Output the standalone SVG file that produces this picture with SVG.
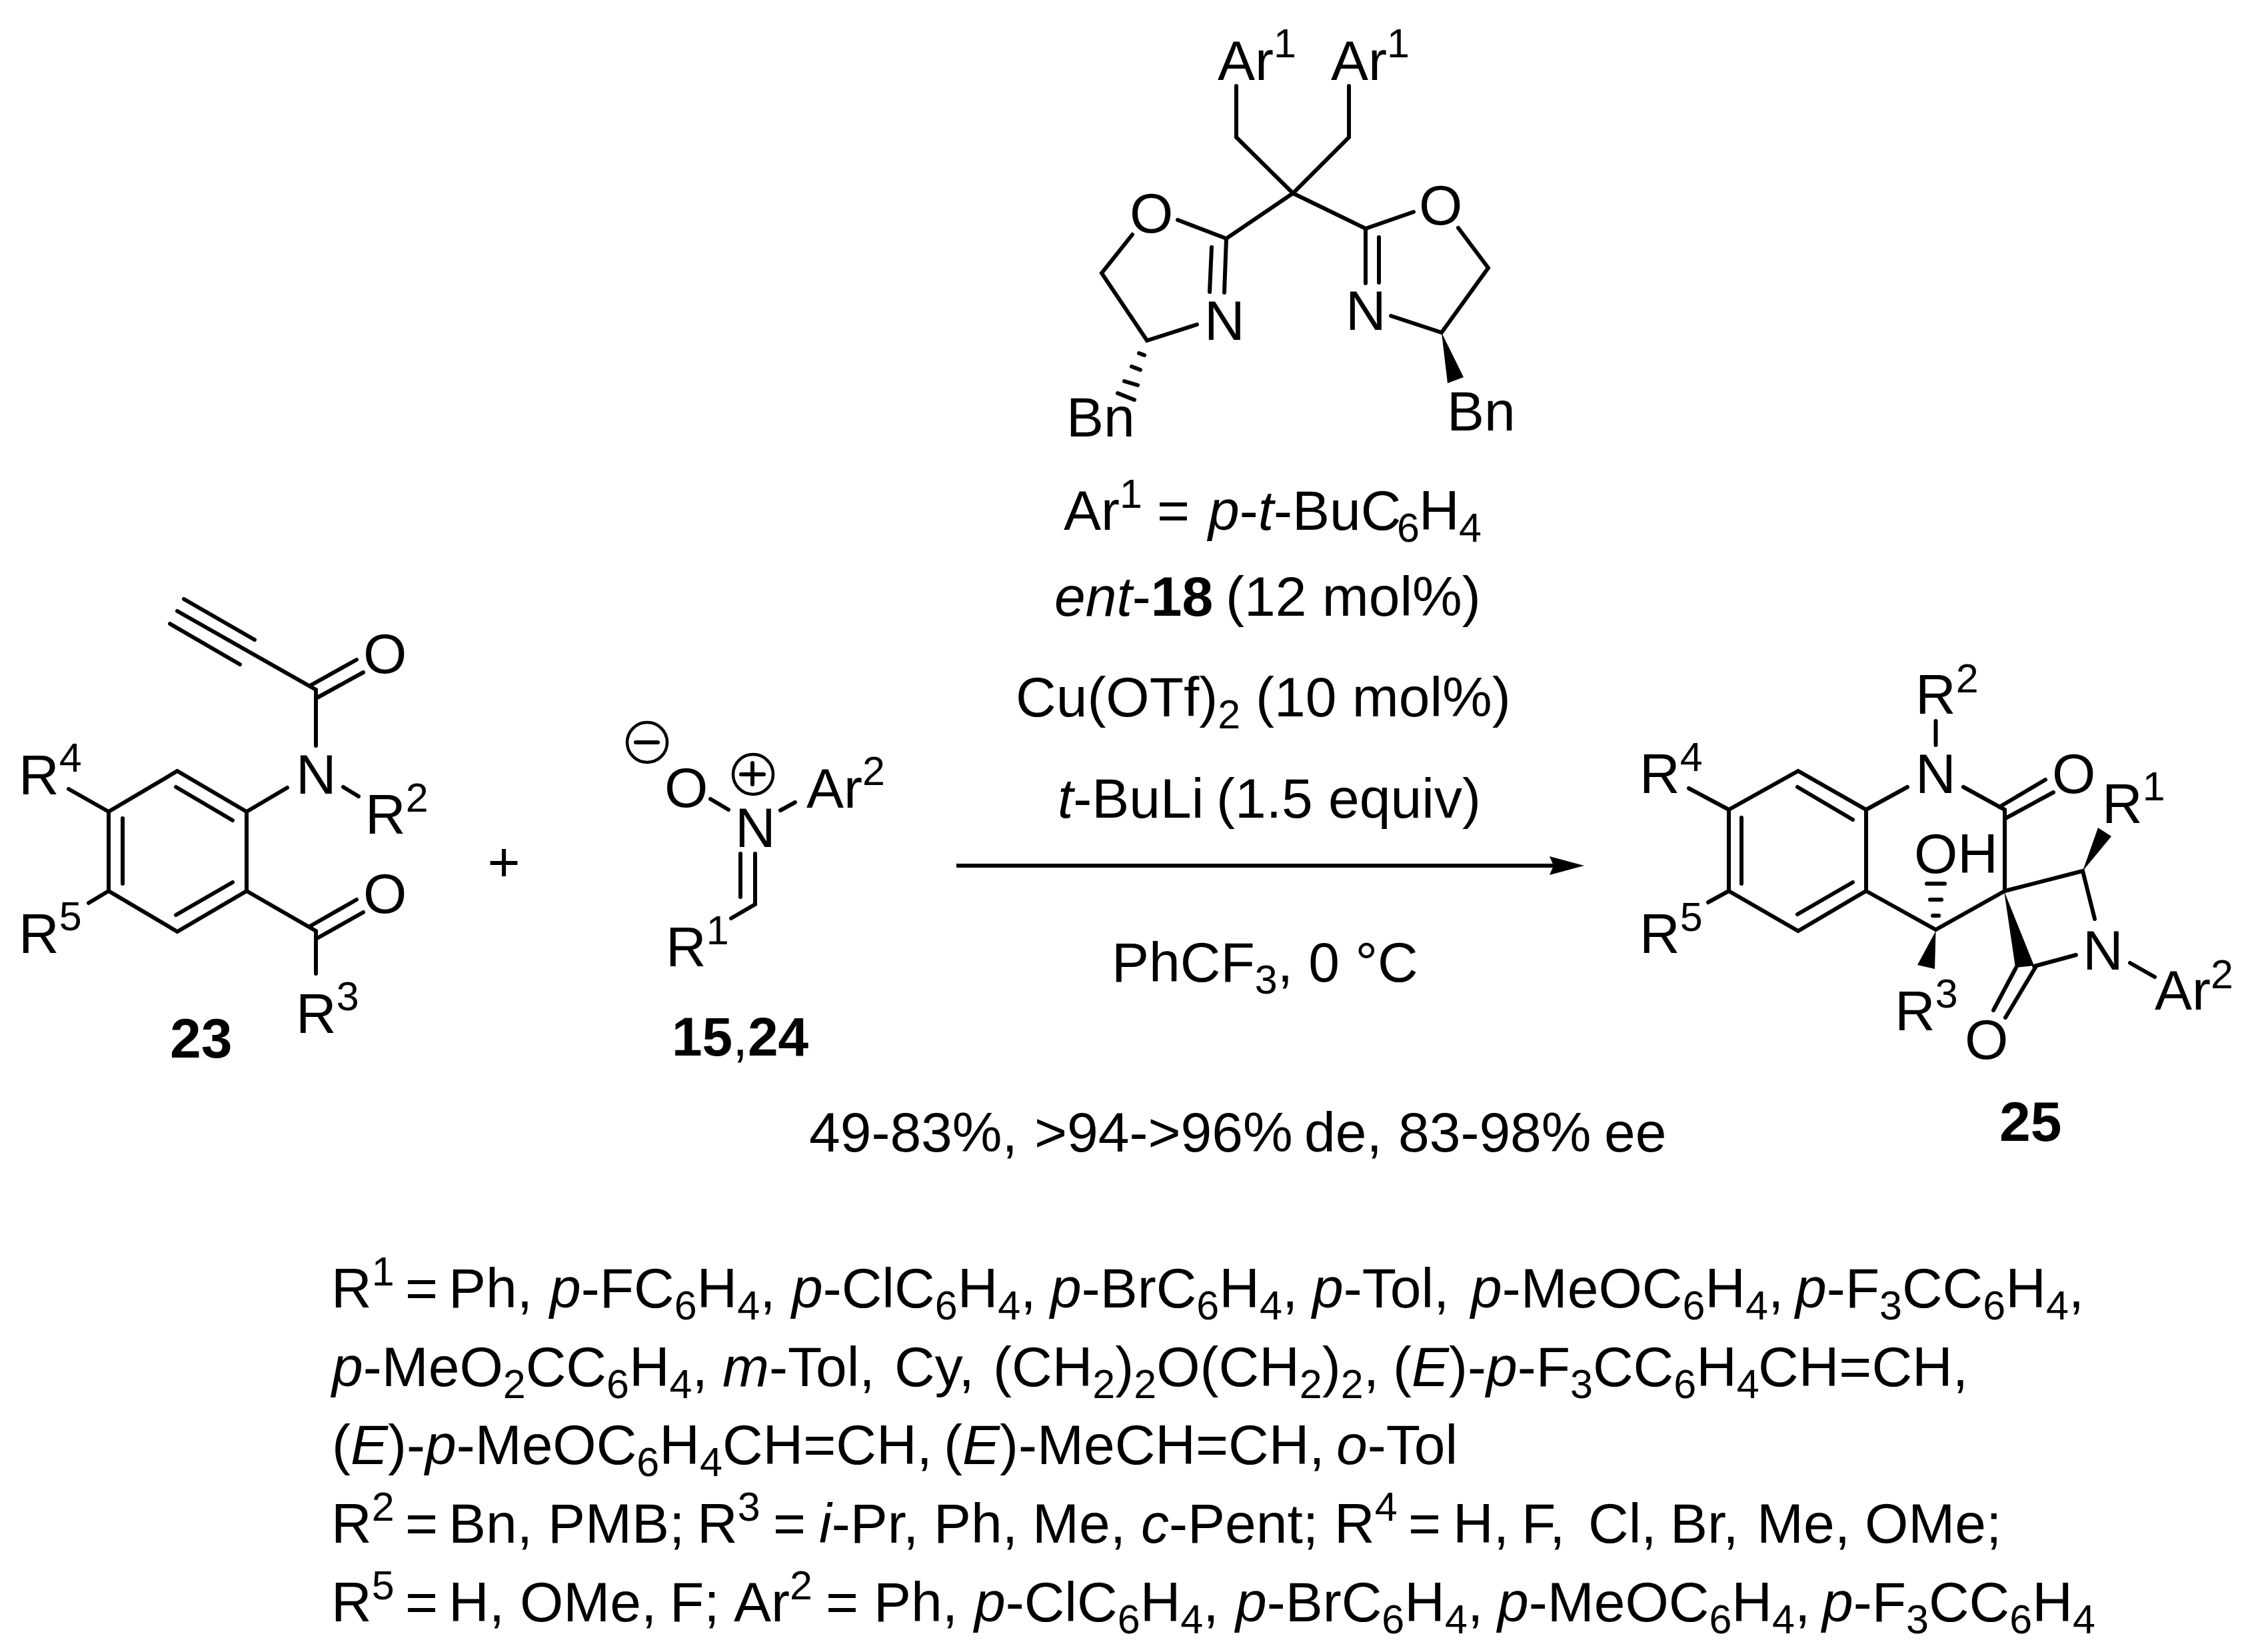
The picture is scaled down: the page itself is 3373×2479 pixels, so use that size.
<svg xmlns="http://www.w3.org/2000/svg" width="3373" height="2479" viewBox="0 0 3373 2479">
<style>
text{font-family:"Liberation Sans",Arial,sans-serif;font-size:84px;fill:#000}
.b{font-weight:700}
.i{font-style:italic}
.s{font-size:61px}
.l{fill:none;stroke:#000;stroke-width:6;stroke-linecap:round;stroke-linejoin:miter}
.c{fill:none;stroke:#000;stroke-width:4.5}
.f{fill:#000;stroke:none}
</style>
<defs>
<marker id="head" markerUnits="userSpaceOnUse" markerWidth="52" markerHeight="28" viewBox="0 0 52 28" refX="7" refY="14" orient="auto"><path d="M0 0L52 14L0 28L6 14Z" fill="#000"/></marker>
</defs>
<rect width="3373" height="2479" fill="#fff"/>

<g id="connectors">
<line x1="1435" y1="1299" x2="2332" y2="1299" stroke="#000" stroke-width="6" marker-end="url(#head)"/>
</g>

<g id="ligand">
<path class="l" d="M1855 129V206L1940 290L2024 206V129M1940 290L1840 358L1767 330M1840 358L1837 439M1818 371L1815 438M1796 487L1721 511L1653 410L1699 352M1940 290L2049 343L2121 318M2049 343V425M2069 356V424M2087 474L2163 499L2233 402L2188 342"/>
<path class="l" d="M1709 530L1717 533M1698 550L1711 555M1687 572L1707 578M1677 590L1702 600"/>
<polygon class="f" points="2163,499 2172,575 2196,566"/>
<text x="1827" y="120">Ar<tspan class="s" dy="-34">1</tspan></text>
<text x="1997" y="120">Ar<tspan class="s" dy="-34">1</tspan></text>
<text x="1695" y="349">O</text>
<text x="2129" y="337">O</text>
<text x="1807" y="510">N</text>
<text x="2019" y="495">N</text>
<text x="1600" y="655">Bn</text>
<text x="2171" y="646">Bn</text>
</g>

<g id="conditions">
<text y="795"><tspan x="1596">Ar</tspan><tspan class="s" dy="-33">1</tspan><tspan x="1736" dy="33">=</tspan><tspan class="i" x="1813">p</tspan>-<tspan class="i">t</tspan>-BuC<tspan class="s" x="2096" dy="18">6</tspan><tspan x="2129" dy="-18">H</tspan><tspan class="s" x="2189" dy="18">4</tspan></text>
<text y="924"><tspan class="i" x="1582">ent</tspan>-<tspan class="b">18</tspan><tspan x="1839">(12 mol%)</tspan></text>
<text y="1075"><tspan x="1524">Cu(OTf)</tspan><tspan class="s" dy="18">2</tspan><tspan x="1884" dy="-18">(10 mol%)</tspan></text>
<text y="1227"><tspan class="i" x="1587">t</tspan>-BuLi<tspan x="1825">(1.5 equiv)</tspan></text>
<text y="1473"><tspan x="1668">PhCF</tspan><tspan class="s" dy="18">3</tspan><tspan dy="-18">, 0 °C</tspan></text>
</g>

<g id="yield">
<text y="1728"><tspan x="1214">49-83%,</tspan><tspan x="1552">&gt;94-&gt;96%</tspan><tspan x="1957">de,</tspan><tspan x="2098">83-98%</tspan><tspan x="2407">ee</tspan></text>
</g>

<g id="substrate-23">
<path class="l" d="M266 917L474 1035V1119M276 899L382 960M255 936L360 997M465 1029L535 990M474 1048L545 1009"/>
<path class="l" d="M370 1218L266 1157L163 1218V1337L266 1398L370 1337ZM264 1181L349 1231M184 1228V1326M264 1373L349 1324M370 1218L431 1182M515 1181L538 1195M163 1218L103 1184M163 1337L133 1355M370 1337L474 1397V1461M465 1390L535 1350M474 1409L545 1369"/>
<text x="545" y="1010">O</text>
<text x="444" y="1191">N</text>
<text x="548" y="1251">R<tspan class="s" dy="-33">2</tspan></text>
<text x="28" y="1192">R<tspan class="s" dy="-34">4</tspan></text>
<text x="28" y="1430">R<tspan class="s" dy="-34">5</tspan></text>
<text x="545" y="1370">O</text>
<text x="444" y="1550">R<tspan class="s" dy="-34">3</tspan></text>
<text class="b" x="255" y="1587">23</text>
</g>

<g id="plus"><text x="756" y="1322" text-anchor="middle">+</text></g>

<g id="nitrone-15-24">
<circle class="c" cx="971" cy="1114" r="30"/>
<path class="l" d="M954 1114H987M1112 1162H1146M1129 1145V1177"/>
<circle class="c" cx="1130" cy="1162" r="30"/>
<path class="l" d="M1066 1199L1093 1215M1171 1216L1193 1204M1111 1281V1346M1133 1281V1357L1097 1378"/>
<text x="997" y="1211">O</text>
<text x="1103" y="1271">N</text>
<text x="1210" y="1212">Ar<tspan class="s" dy="-34">2</tspan></text>
<text x="999" y="1450">R<tspan class="s" dy="-33">1</tspan></text>
<text x="1008" y="1584" style="font-size:82px"><tspan class="b">15</tspan>,<tspan class="b">24</tspan></text>
</g>

<g id="product-25">
<path class="l" d="M2800 1215L2698 1157L2594 1215V1337L2698 1397L2800 1337ZM2697 1181L2780 1230M2613 1227V1326M2697 1372L2780 1324M2800 1215L2862 1181M2946 1181L3008 1215V1337L2904.5 1395L2800 1337M3000 1211L3069 1170M3011 1227L3081 1189M2904.5 1082V1118M2594 1215L2534 1183M2594 1337L2563 1354M3008 1337L3125 1307L3143 1379M3115 1433L3052 1450M3196 1445L3233 1466M3025 1452L2991 1516M3055 1450L3009 1527"/>
<path class="l" d="M2900 1374H2909M2896 1350H2913M2891 1326H2918"/>
<polygon class="f" points="2904.5,1397 2877,1448 2903,1454"/>
<polygon class="f" points="3125,1307 3148,1242 3168,1255"/>
<polygon class="f" points="3007,1337 3024,1452 3052,1449"/>
<text x="2874" y="1190">N</text>
<text x="2874" y="1071">R<tspan class="s" dy="-32">2</tspan></text>
<text x="3079" y="1190">O</text>
<text x="2460" y="1190">R<tspan class="s" dy="-33">4</tspan></text>
<text x="2460" y="1430">R<tspan class="s" dy="-33">5</tspan></text>
<text x="2872" y="1310">OH</text>
<text x="2843" y="1546">R<tspan class="s" dy="-34">3</tspan></text>
<text x="3125" y="1455">N</text>
<text x="3154" y="1235">R<tspan class="s" dy="-34">1</tspan></text>
<text x="3233" y="1515">Ar<tspan class="s" dy="-32">2</tspan></text>
<text x="2948" y="1589">O</text>
<text class="b" x="3000" y="1712">25</text>
</g>

<g id="legend">
<text y="1962"><tspan x="497">R</tspan><tspan class="s" dy="-33">1</tspan><tspan x="608" dy="33">=</tspan><tspan x="673">Ph,</tspan><tspan class="i" x="825">p</tspan>-FC<tspan class="s" dy="18">6</tspan><tspan dy="-18">H</tspan><tspan class="s" dy="18">4</tspan><tspan dy="-18">,</tspan><tspan class="i" x="1188">p</tspan>-ClC<tspan class="s" dy="18">6</tspan><tspan dy="-18">H</tspan><tspan class="s" dy="18">4</tspan><tspan dy="-18">,</tspan><tspan class="i" x="1576">p</tspan>-BrC<tspan class="s" dy="18">6</tspan><tspan dy="-18">H</tspan><tspan class="s" dy="18">4</tspan><tspan dy="-18">,</tspan><tspan class="i" x="1969">p</tspan>-Tol,<tspan class="i" x="2207">p</tspan>-MeOC<tspan class="s" dy="18">6</tspan><tspan dy="-18">H</tspan><tspan class="s" dy="18">4</tspan><tspan dy="-18">,</tspan><tspan class="i" x="2694">p</tspan>-F<tspan class="s" dy="18">3</tspan><tspan dy="-18">CC</tspan><tspan class="s" dy="18">6</tspan><tspan dy="-18">H</tspan><tspan class="s" dy="18">4</tspan><tspan dy="-18">,</tspan></text>
<text y="2080"><tspan class="i" x="498">p</tspan>-MeO<tspan class="s" dy="18">2</tspan><tspan dy="-18">CC</tspan><tspan class="s" dy="18">6</tspan><tspan dy="-18">H</tspan><tspan class="s" dy="18">4</tspan><tspan dy="-18">,</tspan><tspan class="i" x="1084">m</tspan>-Tol,<tspan x="1342">Cy,</tspan><tspan x="1490">(CH</tspan><tspan class="s" dy="18">2</tspan><tspan dy="-18">)</tspan><tspan class="s" dy="18">2</tspan><tspan dy="-18">O(CH</tspan><tspan class="s" dy="18">2</tspan><tspan dy="-18">)</tspan><tspan class="s" dy="18">2</tspan><tspan dy="-18">,</tspan><tspan x="2090">(</tspan><tspan class="i">E</tspan>)-<tspan class="i">p</tspan>-F<tspan class="s" dy="18">3</tspan><tspan dy="-18">CC</tspan><tspan class="s" dy="18">6</tspan><tspan dy="-18">H</tspan><tspan class="s" dy="18">4</tspan><tspan x="2638" dy="-18">CH=CH,</tspan></text>
<text y="2197"><tspan x="498">(</tspan><tspan class="i">E</tspan>)-<tspan class="i">p</tspan>-MeOC<tspan class="s" dy="18">6</tspan><tspan dy="-18">H</tspan><tspan class="s" dy="18">4</tspan><tspan dy="-18">CH=CH,</tspan><tspan x="1416">(</tspan><tspan class="i">E</tspan>)-MeCH=CH,<tspan class="i" x="2005">o</tspan>-Tol</text>
<text y="2315"><tspan x="497">R</tspan><tspan class="s" dy="-33">2</tspan><tspan x="608" dy="33">=</tspan><tspan x="673">Bn,</tspan><tspan x="822">PMB;</tspan><tspan x="1046">R</tspan><tspan class="s" dy="-33">3</tspan><tspan x="1160" dy="33">=</tspan><tspan class="i" x="1229">i</tspan>-Pr,<tspan x="1401">Ph,</tspan><tspan x="1549">Me,</tspan><tspan class="i" x="1712">c</tspan>-Pent;<tspan x="2002">R</tspan><tspan class="s" dy="-33">4</tspan><tspan x="2113" dy="33">=</tspan><tspan x="2180">H,</tspan><tspan x="2283">F,</tspan><tspan x="2383">Cl,</tspan><tspan x="2506">Br,</tspan><tspan x="2636">Me,</tspan><tspan x="2798">OMe;</tspan></text>
<text y="2433"><tspan x="497">R</tspan><tspan class="s" dy="-33">5</tspan><tspan x="608" dy="33">=</tspan><tspan x="673">H,</tspan><tspan x="780">OMe,</tspan><tspan x="1005">F;</tspan><tspan x="1101">Ar</tspan><tspan class="s" dy="-33">2</tspan><tspan x="1239" dy="33">=</tspan><tspan x="1311">Ph,</tspan><tspan class="i" x="1462">p</tspan>-ClC<tspan class="s" dy="18">6</tspan><tspan dy="-18">H</tspan><tspan class="s" dy="18">4</tspan><tspan dy="-18">,</tspan><tspan class="i" x="1854">p</tspan>-BrC<tspan class="s" dy="18">6</tspan><tspan dy="-18">H</tspan><tspan class="s" dy="18">4</tspan><tspan dy="-18">,</tspan><tspan class="i" x="2247">p</tspan>-MeOC<tspan class="s" dy="18">6</tspan><tspan dy="-18">H</tspan><tspan class="s" dy="18">4</tspan><tspan dy="-18">,</tspan><tspan class="i" x="2734">p</tspan>-F<tspan class="s" dy="18">3</tspan><tspan dy="-18">CC</tspan><tspan class="s" dy="18">6</tspan><tspan dy="-18">H</tspan><tspan class="s" dy="18">4</tspan></text>
</g>
</svg>
